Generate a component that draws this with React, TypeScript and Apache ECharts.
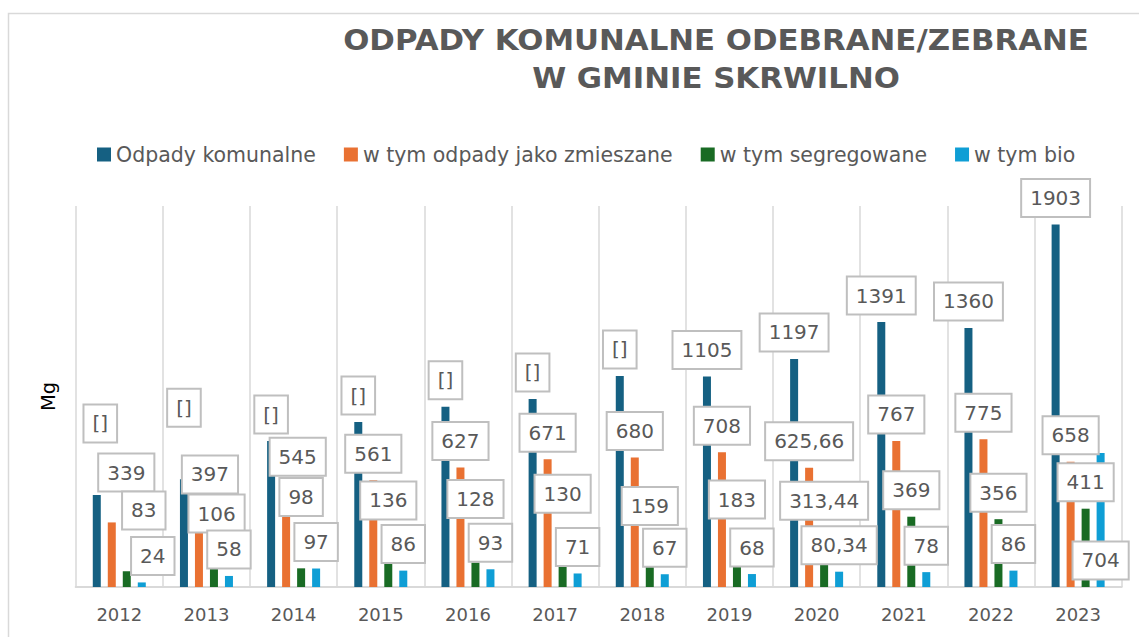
import React, { useEffect, useRef } from "react";
import * as echarts from "echarts";

const years = ["2012", "2013", "2014", "2015", "2016", "2017", "2018", "2019", "2020", "2021", "2022", "2023"];
const seriesNames = ["Odpady komunalne", "w tym odpady jako zmieszane", "w tym segregowane", "w tym bio"];
const odpadyKomunalne = [483, 565, 766, 866, 946, 987, 1108, 1105, 1197, 1391, 1360, 1903];
const odpadyKomunalneLabels = ["[]", "[]", "[]", "[]", "[]", "[]", "[]", "1105", "1197", "1391", "1360", "1903"];
const zmieszane = [339, 397, 545, 561, 627, 671, 680, 708, 625.66, 767, 775, 658];
const segregowane = [83, 106, 98, 136, 128, 130, 159, 183, 313.44, 369, 356, 411];
const bio = [24, 58, 97, 86, 93, 71, 67, 68, 80.34, 78, 86, 704];

const colors = ["#156082", "#E97132", "#196B24", "#0F9ED5"];

// label nudges (px) for labels that were moved by hand in the original
const labelShift: Record<string, [number, number]> = {
  "0-0": [3.5, -45], "0-1": [0, -45],
  "1-0": [14.5, -23.4], "1-1": [11, -10.4], "1-2": [11.6, 0],
  "2-0": [17, -34.2], "2-1": [2.6, -26.8], "2-2": [0, -44.8], "2-3": [0, -34.1],
  "2-4": [0, -37.1], "2-5": [0, -42], "2-6": [0, -24.2], "2-7": [0, -26.1],
  "3-0": [11, 0], "3-11": [0, 134.1],
};

const FONT = "'DejaVu Sans', sans-serif";

function fmt(v: number) {
  return String(v).replace(".", ",");
}

export default function App() {
  const ref = useRef<HTMLDivElement>(null);
  useEffect(() => {
    if (!ref.current) return;
    const chart = echarts.init(ref.current, undefined, { renderer: "svg" });
    const all = [odpadyKomunalne, zmieszane, segregowane, bio];
    const series = all.map((arr, si) => ({
      name: seriesNames[si],
      type: "bar",
      barWidth: 8,
      barGap: "87.5%",
      itemStyle: { color: colors[si] },
      label: {
        show: true,
        position: "top",
        distance: 8.5,
        fontFamily: FONT,
        fontSize: 20,
        lineHeight: 22,
        color: "#595959",
        backgroundColor: "#ffffff",
        borderColor: "#bfbfbf",
        borderWidth: 2,
        padding: [7, 8],
        formatter: (p: any) => (si === 0 ? odpadyKomunalneLabels[p.dataIndex] : fmt(p.value)),
      },
      data: arr.map((v, di) => {
        const s = labelShift[`${si}-${di}`];
        return s ? { value: v, label: { offset: s } } : v;
      }),
    }));

    chart.setOption({
      animation: false,
      backgroundColor: "#ffffff",
      graphic: [
        {
          type: "rect",
          z: 0,
          shape: { x: 8.5, y: 13.5, width: 1200, height: 700 },
          style: { fill: "none", stroke: "#d9d9d9", lineWidth: 1.5 },
        },
        {
          type: "text",
          z: 10,
          x: 716,
          y: 21,
          scaleX: 1.1,
          style: {
            text: "ODPADY KOMUNALNE ODEBRANE/ZEBRANE\nW GMINIE SKRWILNO",
            align: "center",
            verticalAlign: "top",
            fontFamily: FONT,
            fontWeight: "bold",
            fontSize: 28,
            lineHeight: 38.5,
            fill: "#595959",
          },
        },
      ],
      legend: {
        left: 97,
        top: 144,
        padding: 0,
        itemGap: 28,
        itemWidth: 14,
        itemHeight: 14,
        icon: "rect",
        textStyle: { fontFamily: FONT, fontSize: 20.5, color: "#595959" },
        data: seriesNames,
      },
      grid: { left: 75.7, right: 17.3, top: 206, bottom: 50, containLabel: false },
      xAxis: {
        type: "category",
        data: years,
        axisTick: { show: false },
        axisLine: { lineStyle: { color: "#d9d9d9", width: 2 } },
        splitLine: { show: true, interval: 0, lineStyle: { color: "#d9d9d9", width: 1.5 } },
        axisLabel: { fontFamily: FONT, fontSize: 18, color: "#595959", margin: 18, interval: 0 },
      },
      yAxis: {
        type: "value",
        min: 0,
        max: 2000,
        name: "Mg",
        nameLocation: "middle",
        nameGap: 17,
        nameRotate: 90,
        nameTextStyle: { fontFamily: FONT, fontSize: 19.5, color: "#000000" },
        axisLabel: { show: false },
        axisLine: { show: false },
        axisTick: { show: false },
        splitLine: { show: false },
      },
      series,
    });
    return () => chart.dispose();
  }, []);
  return (
    <div
      ref={ref}
      style={{ position: "fixed", left: 0, top: 0, width: 1139, height: 637, background: "#fff" }}
    />
  );
}
